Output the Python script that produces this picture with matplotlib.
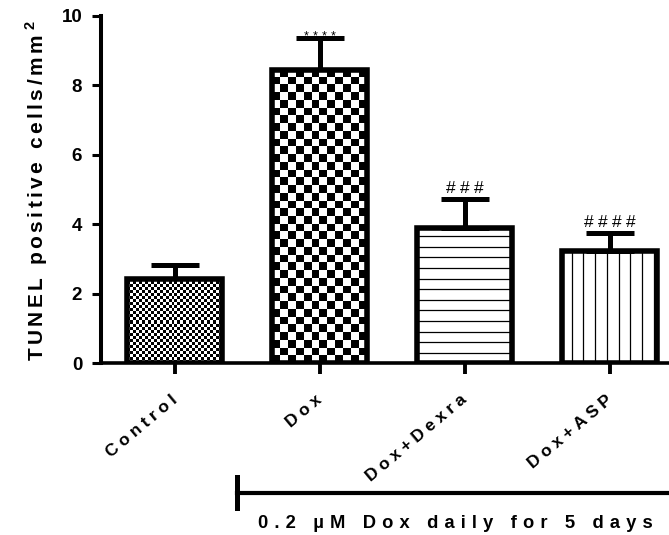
import numpy as np
import matplotlib
matplotlib.use("Agg")
import matplotlib.pyplot as plt
from matplotlib.lines import Line2D

plt.rcParams['font.family'] = ['Liberation Sans', 'DejaVu Sans']
plt.rcParams['mathtext.fontset'] = 'custom'
plt.rcParams['mathtext.rm'] = 'Liberation Sans:bold'
plt.rcParams['mathtext.bf'] = 'Liberation Sans:bold'

# ---- data ----
categories = ["Control", "Dox", "Dox+Dexra", "Dox+ASP"]
means = [2.44, 8.44, 3.89, 3.24]
sems = [0.38, 0.92, 0.84, 0.50]
marks = ["", "****", "###", "####"]
yticks = [0, 2, 4, 6, 8, 10]
ylabel = "TUNEL positive cells/mm"
treatment = "0.2 \u00b5M Dox daily for 5 days"

def spaced(s, sp="\u2005"):
    return sp.join(s)

W, H = 669, 535
fig = plt.figure(figsize=(W / 100, H / 100), dpi=100)
ax = fig.add_axes([101 / W, 1 - 363.3 / H, (W - 101) / W, (363.3 - 16) / H])

x = np.arange(len(categories))
bars = ax.bar(x, means, width=0.655, facecolor="none", edgecolor="black",
              linewidth=4, zorder=3)
ax.errorbar(x, means, yerr=[np.zeros(len(sems)), sems], fmt="none",
            ecolor="black", elinewidth=3.6, capsize=17, capthick=3.6, zorder=2)

ax.set_xlim(-0.51, 3.407)
ax.set_ylim(0, 10)

# ---- fill patterns ----
trans = ax.transData

def checker(bar, sq_px):
    x0, y0 = bar.get_x(), bar.get_y()
    x1, y1 = x0 + bar.get_width(), y0 + bar.get_height()
    (px0, py0), (px1, py1) = trans.transform([(x0, y0), (x1, y1)])
    nx = max(1, int(round((px1 - px0) / sq_px)))
    ny = max(1, int(round((py1 - py0) / sq_px)))
    arr = (np.add.outer(np.arange(ny), np.arange(nx)) % 2).astype(float)
    im = ax.imshow(arr, cmap="gray_r", extent=(x0, x1, y0, y1),
                   interpolation="nearest", aspect="auto", zorder=2.5,
                   origin="upper")
    im.set_clip_path(bar)

checker(bars[0], 3.0)
checker(bars[1], 7.7)

# horizontal lines (Dox+Dexra)
b = bars[2]
step_y = 10.6 / (trans.transform((0, 1))[1] - trans.transform((0, 0))[1])
ys = np.arange(step_y, b.get_height(), step_y)
hl = ax.hlines(ys, b.get_x(), b.get_x() + b.get_width(), colors="black",
               linewidth=0.9, zorder=2.6)
hl.set_clip_path(b)

# vertical lines (Dox+ASP)
b = bars[3]
step_x = 11.7 / (trans.transform((1, 0))[0] - trans.transform((0, 0))[0])
xs = np.arange(b.get_x() + 0.79 * step_x, b.get_x() + b.get_width(), step_x)
vl = ax.vlines(xs, 0, b.get_height(), colors="black", linewidth=0.9,
               zorder=2.6)
vl.set_clip_path(b)

ax.set_xlim(-0.51, 3.407)
ax.set_ylim(0, 10)

# ---- significance marks ----
for xi, m, s, t in zip(x, means, sems, marks):
    if not t:
        continue
    if "*" in t:
        ax.annotate(spaced(t, "\u2004"), (xi, m + s), xytext=(0, -1.5),
                    textcoords="offset points", ha="center", va="baseline",
                    fontsize=9, zorder=5)
    else:
        ax.annotate(spaced(t, "\u2005"), (xi, m + s), xytext=(0, 4.3),
                    textcoords="offset points", ha="center", va="baseline",
                    fontsize=12.5, zorder=5)

# ---- axes styling ----
for sp in ["top", "right"]:
    ax.spines[sp].set_visible(False)
ax.spines["left"].set_linewidth(2.9)
ax.spines["bottom"].set_linewidth(2.6)
ax.spines["left"].set_capstyle("projecting")

ax.set_yticks(yticks)
ax.set_yticklabels([str(v) for v in yticks], fontweight="bold")
ax.tick_params(axis="y", length=6.5, width=2.2, labelsize=13.5, pad=7)

ax.set_xticks(x)
ax.set_xticklabels([spaced(c, "\u2005") for c in categories], rotation=40,
                   ha="right", va="center", rotation_mode="anchor",
                   fontweight="bold", fontsize=12.5)
ax.tick_params(axis="x", length=8, width=2.8, pad=17)

fig.text(37 / W, 1 - 191 / H, spaced(ylabel, "\u2006") + "\u2005$^{2}$",
         rotation=90, ha="center", va="center", fontsize=15,
         fontweight="bold")

# ---- treatment bracket ----
fig.add_artist(Line2D([237 / W, 1.0], [1 - 493 / H, 1 - 493 / H],
                      transform=fig.transFigure, color="black", lw=3))
fig.add_artist(Line2D([237 / W, 237 / W], [1 - 477 / H, 1 - 508 / H],
                      transform=fig.transFigure, color="black", lw=3.6))
fig.text(455 / W, 1 - 523 / H, spaced(treatment, "\u2004"), ha="center",
         va="center", fontsize=13.2, fontweight="bold")

fig.savefig("out.png", dpi=100)
